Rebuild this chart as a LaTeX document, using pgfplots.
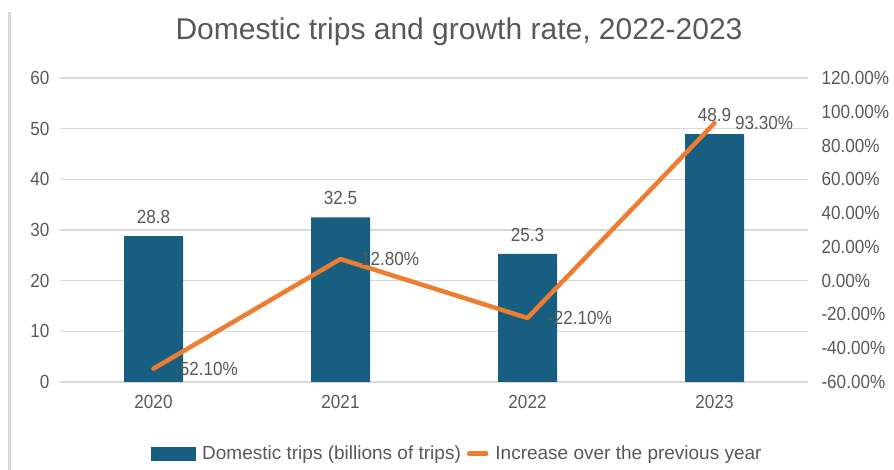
\documentclass[border=0pt]{standalone}
\usepackage{pgfplots}
\pgfplotsset{compat=1.18}
\usepackage{fontspec}
\setmainfont{Liberation Sans}
\newfontfamily\tickfont{Liberation Sans}[FakeStretch=0.9]
\definecolor{barc}{HTML}{175E80}
\definecolor{linec}{HTML}{ED7D31}
\definecolor{txt}{HTML}{595959}
\definecolor{gridc}{HTML}{D9D9D9}
\begin{document}
\begin{tikzpicture}[x=1pt,y=1pt]
\path[use as bounding box] (0,0) rectangle (894,470);
\draw[gridc, line width=2.5pt] (9.5,0) -- (9.5,458);
\node[txt, font=\fontsize{30}{36}\selectfont, anchor=base] at (459,430) {Domestic trips and growth rate, 2022-2023};
\begin{axis}[at={(60pt,88pt)}, anchor=south west, scale only axis,
  width=748pt, height=304pt,
  xmin=-0.5, xmax=3.5, ymin=0, ymax=60,
  ytick={0,10,...,60}, xtick={0,1,2,3}, xticklabels={2020,2021,2022,2023},
  /pgf/number format/assume math mode=true,
  axis line style={draw=none}, major tick length=0pt,
  ymajorgrids, grid style={gridc, line width=1.3pt},
  ticklabel style={txt, font=\tickfont\fontsize{19}{22}\selectfont},
  yticklabel style={xshift=-7pt},
  xticklabel style={yshift=-10pt},
  clip=false]
\addplot[ybar, bar width=59pt, fill=barc, draw=none,
  nodes near coords, point meta=explicit symbolic,
  every node near coord/.style={txt, font=\tickfont\fontsize{19}{22}\selectfont, anchor=south, yshift=9pt}]
  coordinates {(0,28.8) [28.8] (1,32.5) [32.5] (2,25.3) [25.3] (3,48.9) [48.9]};
\end{axis}
\begin{axis}[at={(60pt,88pt)}, anchor=south west, scale only axis,
  width=748pt, height=304pt,
  xmin=-0.5, xmax=3.5, ymin=-60, ymax=120,
  axis y line*=right, axis x line=none,
  ytick={-60,-40,...,120},
  yticklabels={-60.00\%,-40.00\%,-20.00\%,0.00\%,20.00\%,40.00\%,60.00\%,80.00\%,100.00\%,120.00\%},
  axis line style={draw=none}, major tick length=0pt,
  ticklabel style={txt, font=\tickfont\fontsize{19}{22}\selectfont},
  yticklabel style={xshift=10pt},
  clip=false,
  legend columns=2,
  legend style={draw=none, at={(0.531,-0.236)}, anchor=center, font=\fontsize{19}{22}\selectfont, text=txt,
    /tikz/every odd column/.append style={column sep=5pt},
    /tikz/every even column/.append style={column sep=4pt}},
  ]
\addlegendimage{legend image code/.code={\fill[barc] (0pt,-6.5pt) rectangle (44pt,6.5pt);}}
\addlegendentry{Domestic trips (billions of trips)}
\addplot[linec, line width=4.5pt, line cap=round, line join=round, mark=none,
  point meta=y,
  nodes near coords={\pgfmathprintnumber[fixed, fixed zerofill, precision=2, assume math mode=true]{\pgfplotspointmeta}\%},
  every node near coord/.style={txt, font=\tickfont\fontsize{19}{22}\selectfont, anchor=west, xshift=15pt}]
  coordinates {(0,-52.1) (1,12.8) (2,-22.1) (3,93.3)};
\addlegendimage{legend image code/.code={\draw[linec, line width=4.5pt, line cap=round] (2pt,0pt) -- (46pt,0pt);}}
\addlegendentry{Increase over the previous year}
\end{axis}
\end{tikzpicture}
\end{document}
